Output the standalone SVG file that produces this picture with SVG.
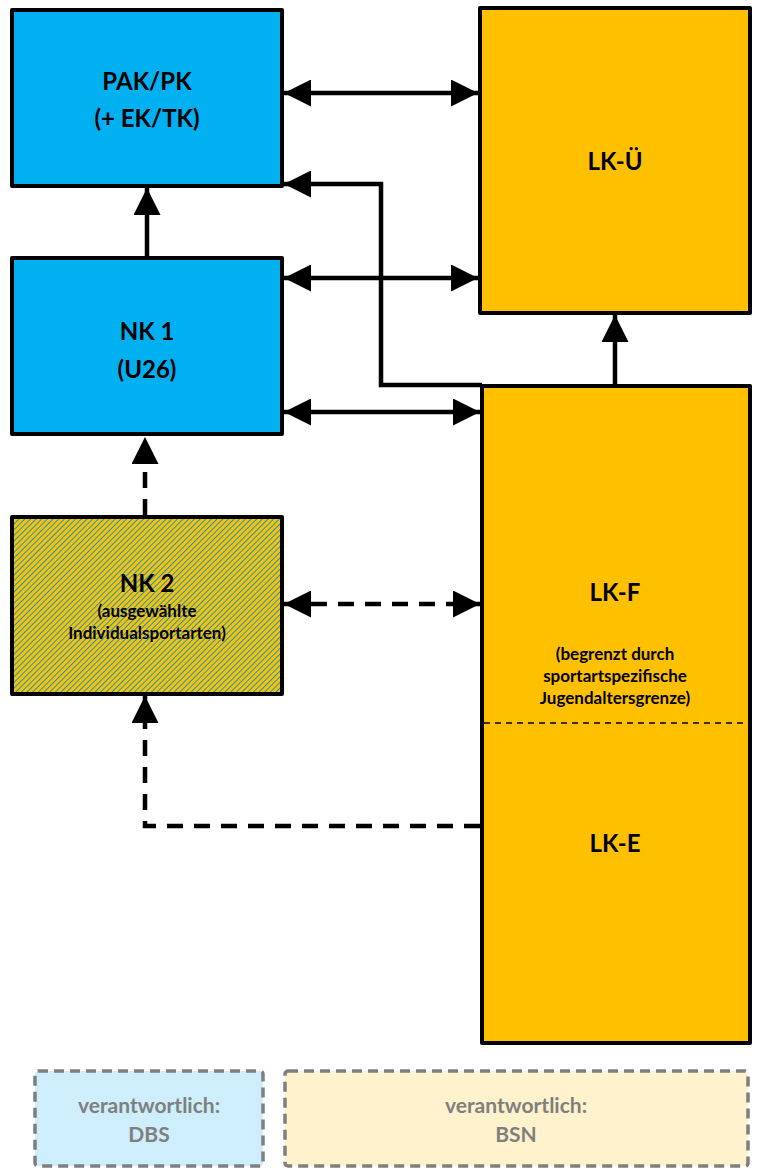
<svg xmlns="http://www.w3.org/2000/svg" width="757" height="1176" viewBox="0 0 757 1176">
<style>
.box{stroke:#000;stroke-width:4;stroke-linejoin:round}
.blue{fill:#00b0f0}
.orange{fill:#ffc000}
.t{font-family:Lato,"Liberation Sans",sans-serif;font-weight:bold;fill:#000;text-anchor:middle}
.big{font-size:24px}
.small{font-size:17px}
.line{fill:none;stroke:#000;stroke-width:4.5}
.dash{stroke-dasharray:16 11}
.leg{stroke:#7f7f7f;stroke-width:3.5;stroke-dasharray:10 6}
.lt{font-family:Lato,"Liberation Sans",sans-serif;font-weight:bold;fill:#7f7f7f;font-size:21px;text-anchor:middle}
</style>
<defs>
<marker id="ah" markerWidth="6" markerHeight="6" refX="6" refY="3" orient="auto-start-reverse" markerUnits="strokeWidth" viewBox="0 0 6 6">
<path d="M0,0 L6,3 L0,6 z" fill="#000"/>
</marker>
<pattern id="hatch" width="4" height="4" patternUnits="userSpaceOnUse" patternTransform="rotate(-45)">
<rect width="4" height="4" fill="#ffc000"/>
<rect width="4" height="1" fill="#0a9ad8"/>
</pattern>
</defs>

<g id="connectors">
<line class="line" x1="284" y1="93" x2="478" y2="93" marker-start="url(#ah)" marker-end="url(#ah)"/>
<polyline class="line" points="482,385 381,385 381,184 284,184" marker-end="url(#ah)"/>
<line class="line" x1="147" y1="256" x2="147" y2="188" marker-end="url(#ah)"/>
<line class="line" x1="284" y1="278" x2="478" y2="278" marker-start="url(#ah)" marker-end="url(#ah)"/>
<line class="line" x1="284" y1="412" x2="480" y2="412" marker-start="url(#ah)" marker-end="url(#ah)"/>
<line class="line" x1="615" y1="384" x2="615" y2="315" marker-end="url(#ah)"/>
<line class="line dash" x1="145" y1="515" x2="145" y2="437" marker-end="url(#ah)"/>
<line class="line dash" x1="284" y1="604" x2="480" y2="604" marker-start="url(#ah)" marker-end="url(#ah)"/>
<polyline class="line dash" points="480,826 145,826 145,696" marker-end="url(#ah)"/>
</g>

<g id="pak">
<rect class="box blue" x="12" y="10" width="270" height="176"/>
<text class="t big" x="147" y="90">PAK/PK</text>
<text class="t big" x="147" y="127">(+ EK/TK)</text>
</g>

<g id="nk1">
<rect class="box blue" x="12" y="258" width="270" height="176"/>
<text class="t big" x="147" y="340">NK 1</text>
<text class="t big" x="147" y="378">(U26)</text>
</g>

<g id="nk2">
<rect class="box" fill="url(#hatch)" x="12" y="517" width="270" height="177"/>
<text class="t big" x="147" y="592">NK 2</text>
<text class="t small" x="147" y="617">(ausgewählte</text>
<text class="t small" x="147" y="639">Individualsportarten)</text>
</g>

<g id="lku">
<rect class="box orange" x="480" y="8" width="270" height="305"/>
<text class="t big" x="615" y="170">LK-Ü</text>
</g>

<g id="lkfe">
<rect class="box orange" x="482" y="386" width="268" height="657"/>
<line x1="484" y1="723" x2="748" y2="723" stroke="#000" stroke-width="1.5" stroke-dasharray="6 5"/>
<text class="t big" x="615" y="601">LK-F</text>
<text class="t small" x="615" y="660">(begrenzt durch</text>
<text class="t small" x="615" y="682">sportartspezifische</text>
<text class="t small" x="615" y="704">Jugendaltersgrenze)</text>
<text class="t big" x="615" y="852">LK-E</text>
</g>

<g id="legend-dbs">
<rect class="leg" fill="#cdeefa" x="35" y="1071" width="228" height="95" rx="3"/>
<text class="lt" x="149" y="1113">verantwortlich:</text>
<text class="lt" x="149" y="1142">DBS</text>
</g>

<g id="legend-bsn">
<rect class="leg" fill="#fff2cc" x="285" y="1071" width="463" height="95" rx="3"/>
<text class="lt" x="516" y="1113">verantwortlich:</text>
<text class="lt" x="516" y="1142">BSN</text>
</g>
</svg>
